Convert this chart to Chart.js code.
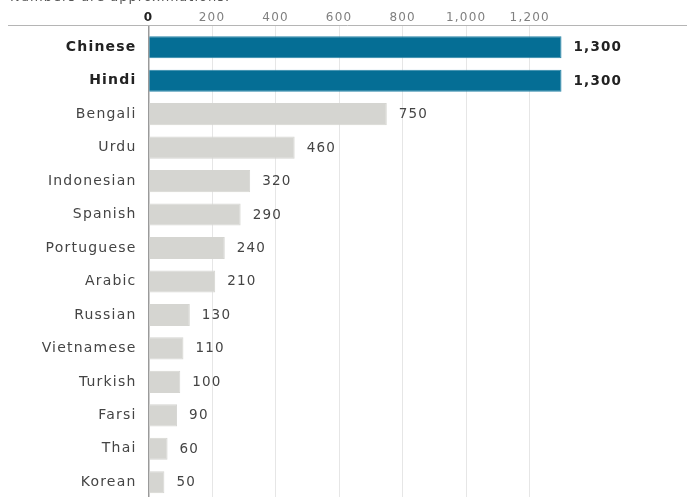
<!DOCTYPE html>
<html>
<head>
<meta charset="utf-8">
<script src="https://cdn.jsdelivr.net/npm/chart.js@4"></script>
<style>
  html, body { margin: 0; padding: 0; background: #fff; overflow: hidden; }
  #note { position: absolute; left: 10px; top: -11px; font: 13px "DejaVu Sans", sans-serif; letter-spacing: 1px; color: #555; white-space: nowrap; z-index: 2; }
  #c { position: absolute; left: 0; top: 0; }
</style>
</head>
<body>
<div id="note">Numbers are approximations.</div>
<canvas id="c" width="687" height="499"></canvas>
<script>
const categories = ['Chinese','Hindi','Bengali','Urdu','Indonesian','Spanish','Portuguese','Arabic','Russian','Vietnamese','Turkish','Farsi','Thai','Korean'];
const speakers = [1300,1300,750,460,320,290,240,210,130,110,100,90,60,50];
const highlighted = [true,true,false,false,false,false,false,false,false,false,false,false,false,false];
const tickValues = [0,200,400,600,800,1000,1200];

const FONT = '"DejaVu Sans", sans-serif';
const LS = '1.2px';
const fmt = v => Number(v).toLocaleString('en-US');

const spacingPlugin = {
  id: 'spacing',
  beforeUpdate(chart) { chart.ctx.letterSpacing = LS; },
  beforeDraw(chart) { chart.ctx.letterSpacing = LS; }
};

const decoPlugin = {
  id: 'deco',
  beforeDatasetsDraw(chart) {
    const ctx = chart.ctx;
    ctx.save();
    ctx.strokeStyle = '#b5b5b5';
    ctx.lineWidth = 1;
    ctx.beginPath();
    ctx.moveTo(8, 25.5);
    ctx.lineTo(chart.width, 25.5);
    ctx.stroke();
    ctx.restore();
  },
  afterDatasetsDraw(chart) {
    const ctx = chart.ctx;
    const meta = chart.getDatasetMeta(0);
    ctx.save();
    ctx.letterSpacing = LS;
    ctx.textBaseline = 'middle';
    ctx.textAlign = 'left';
    meta.data.forEach((bar, i) => {
      ctx.font = (highlighted[i] ? 'bold ' : '') + '13.5px ' + FONT;
      ctx.fillStyle = highlighted[i] ? '#222' : '#444';
      ctx.fillText(fmt(speakers[i]), bar.x + 12, bar.y + 0.5);
    });
    ctx.restore();
  }
};

new Chart(document.getElementById('c'), {
  type: 'bar',
  data: {
    labels: categories,
    datasets: [{
      data: speakers,
      backgroundColor: highlighted.map(h => h ? '#056e95' : '#d5d5d1'),
      borderColor: highlighted.map(h => h ? '#2a86a8' : '#d5d5d1'),
      borderWidth: 1,
      borderSkipped: 'start',
      categoryPercentage: 1,
      barPercentage: 0.66
    }]
  },
  options: {
    indexAxis: 'y',
    responsive: false,
    maintainAspectRatio: false,
    devicePixelRatio: 1,
    animation: false,
    layout: { padding: 0 },
    plugins: { legend: { display: false }, tooltip: { enabled: false } },
    scales: {
      x: {
        type: 'linear',
        position: 'top',
        min: 0,
        max: 1695,
        afterBuildTicks: s => { s.ticks = tickValues.map(v => ({ value: v })); },
        afterFit: s => { s.height = 30.5; s.paddingLeft = 0; s.paddingRight = 0; },
        border: { display: false },
        grid: {
          color: c => (c.tick && c.tick.value === 0) ? '#9a9a9a' : '#e6e6e6',
          lineWidth: c => (c.tick && c.tick.value === 0) ? 1.5 : 1,
          drawTicks: true,
          tickLength: 5
        },
        ticks: {
          padding: 0,
          maxRotation: 0,
          autoSkip: false,
          callback: v => fmt(v),
          color: c => c.tick && c.tick.value === 0 ? '#222' : '#808080',
          font: c => ({ family: FONT, size: 12, weight: (c.tick && c.tick.value === 0) ? 'bold' : 'normal' })
        }
      },
      y: {
        afterFit: s => { s.width = 148.5; s.paddingTop = 0; s.paddingBottom = 0; },
        border: { display: false },
        grid: { display: false },
        ticks: {
          padding: 4,
          color: c => highlighted[c.index] ? '#222' : '#444',
          font: c => ({ family: FONT, size: 14, weight: highlighted[c.index] ? 'bold' : 'normal' })
        }
      }
    }
  },
  plugins: [spacingPlugin, decoPlugin]
});
</script>
</body>
</html>
